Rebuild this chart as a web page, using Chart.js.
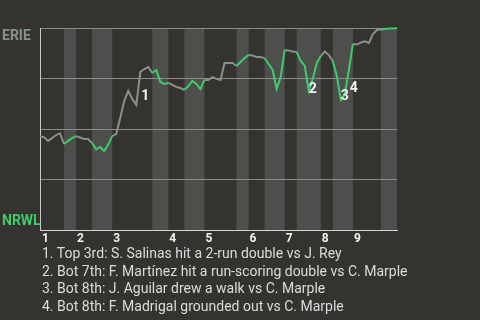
<!DOCTYPE html>
<html>
<head>
<meta charset="utf-8">
<script src="https://cdn.jsdelivr.net/npm/chart.js@4"></script>
<style>
  html, body { margin: 0; padding: 0; background: #353330; }
  #wrap { position: relative; width: 480px; height: 320px; overflow: hidden; }
  canvas { display: block; }
  #notes { position: absolute; left: 42px; top: 245px; font-family: Roboto, "Noto Sans", sans-serif; font-size: 14px; line-height: 17.7px; color: #dcdcdc; white-space: nowrap; }
</style>
</head>
<body>
<div id="wrap">
  <canvas id="c" width="480" height="320"></canvas>
  <div id="notes"></div>
</div>
<script>
// ---- data ----
const awayTeam = 'ERIE';
const homeTeam = 'NRWL';
const inningLabels = ['1','2','3','4','5','6','7','8','9'];
// index of the plate appearance at which each half-inning starts (top 1, bot 1, top 2, ...)
const halfStarts = [0, 6, 9, 13, 18, 28, 32, 36, 41, 49, 52, 56, 61, 64, 70, 73, 78, 85];
const lastIndex = 89;
// ERIE win probability (%) after each plate appearance
const winProb = [
  46.3, 46.0, 44.1, 45.5, 47.0, 47.8, 42.6, 44.1, 45.5, 46.5,
  45.8, 45.0, 45.0, 43.1, 39.9, 41.1, 39.1, 42.3, 46.5, 47.5,
  55.4, 63.9, 68.8, 64.9, 61.9, 78.2, 79.7, 80.7, 77.7, 79.2,
  73.3, 72.3, 72.8, 71.8, 70.8, 70.3, 69.3, 71.3, 73.8, 72.3,
  69.8, 74.3, 74.3, 75.7, 74.8, 74.3, 82.7, 82.7, 82.7, 81.2,
  83.2, 85.1, 86.6, 86.4, 85.6, 85.6, 85.1, 82.2, 79.2, 69.8,
  75.7, 89.1, 88.9, 88.4, 88.1, 83.7, 81.4, 68.8, 74.8, 82.7,
  86.1, 88.4, 86.6, 83.7, 76.2, 64.4, 67.3, 79.2, 92.1, 91.8,
  92.8, 93.4, 92.6, 97.0, 99.0, 99.3, 99.5, 99.7, 99.8, 100
];
const eventIndex = [24, 67, 75, 76];
const eventNotes = [
  '1. Top 3rd: S. Salinas hit a 2-run double vs J. Rey',
  '2. Bot 7th: F. Martínez hit a run-scoring double vs C. Marple',
  '3. Bot 8th: J. Aguilar drew a walk vs C. Marple',
  '4. Bot 8th: F. Madrigal grounded out vs C. Marple'
];

// ---- styles ----
const GRAY = '#87918c';
const GREEN = '#3dcc6a';
const BG = '#353330';
const BAND = '#4e4e4c';
const labelNudge = [[5, -8], [0, -2], [0, -3], [5, -6]];

function halfOf(i) {
  let h = 0;
  for (let k = 0; k < halfStarts.length; k++) if (i >= halfStarts[k]) h = k;
  return h;
}

const points = winProb.map((v, i) => ({ x: i, y: v }));

const bgPlugin = {
  id: 'bands',
  beforeDraw(chart) {
    const { ctx, chartArea: a, scales: { x } } = chart;
    ctx.save();
    ctx.fillStyle = BG;
    ctx.fillRect(0, 0, chart.width, chart.height);
    ctx.fillStyle = BAND;
    for (let k = 1; k < halfStarts.length; k += 2) {
      const s = x.getPixelForValue(halfStarts[k]);
      const e = x.getPixelForValue(k + 1 < halfStarts.length ? halfStarts[k + 1] : lastIndex);
      ctx.fillRect(s, a.top, e - s, a.bottom - a.top);
    }
    ctx.restore();
  },
  afterDraw(chart) {
    const { ctx, chartArea: a, scales: { x, y } } = chart;
    ctx.save();
    // team labels
    ctx.font = 'bold 14px Roboto, sans-serif';
    ctx.textAlign = 'left';
    ctx.textBaseline = 'middle';
    ctx.fillStyle = GRAY;
    ctx.fillText(awayTeam, 2, y.getPixelForValue(100) + 8);
    ctx.fillStyle = GREEN;
    ctx.fillText(homeTeam, 2, y.getPixelForValue(0) - 9);
    // inning labels
    ctx.font = 'bold 12px Roboto, sans-serif';
    ctx.fillStyle = '#f2f2f2';
    for (let n = 0; n < inningLabels.length; n++) {
      const px = x.getPixelForValue(halfStarts[n * 2]);
      ctx.fillText(inningLabels[n], px + (n === 0 ? 2 : 1), a.bottom + 9);
    }
    // event markers
    ctx.font = 'bold 14px Roboto, sans-serif';
    ctx.fillStyle = '#f4f4f4';
    eventIndex.forEach((idx, k) => {
      const px = x.getPixelForValue(idx);
      const py = y.getPixelForValue(winProb[idx]);
      ctx.fillText(String(k + 1), px + labelNudge[k][0], py + labelNudge[k][1]);
    });
    ctx.restore();
  }
};

new Chart(document.getElementById('c'), {
  type: 'line',
  data: {
    datasets: [{
      data: points,
      borderWidth: 2,
      pointRadius: 0,
      tension: 0,
      clip: 4,
      borderColor: GRAY,
      segment: {
        borderColor: c => (halfOf(c.p0DataIndex) % 2 === 1 ? GREEN : GRAY)
      }
    }]
  },
  options: {
    responsive: false,
    animation: false,
    events: [],
    layout: { padding: { left: 40, right: 83, top: 28, bottom: 90 } },
    plugins: { legend: { display: false }, tooltip: { enabled: false } },
    scales: {
      x: {
        type: 'linear', min: 0, max: lastIndex,
        ticks: { display: false },
        grid: { display: false, drawTicks: false },
        border: { display: true, color: '#d4d4d4', width: 1 }
      },
      y: {
        min: 0, max: 100,
        ticks: { display: false, stepSize: 25 },
        grid: { drawTicks: false, color: c => (c.tick && c.tick.value === 0 ? 'rgba(0,0,0,0)' : '#8c8c8a'), lineWidth: 1 },
        border: { display: true, color: '#c8c8c8', width: 1 }
      }
    }
  },
  plugins: [bgPlugin]
});

document.getElementById('notes').innerHTML = eventNotes.map(t => '<div>' + t + '</div>').join('');
</script>
</body>
</html>
